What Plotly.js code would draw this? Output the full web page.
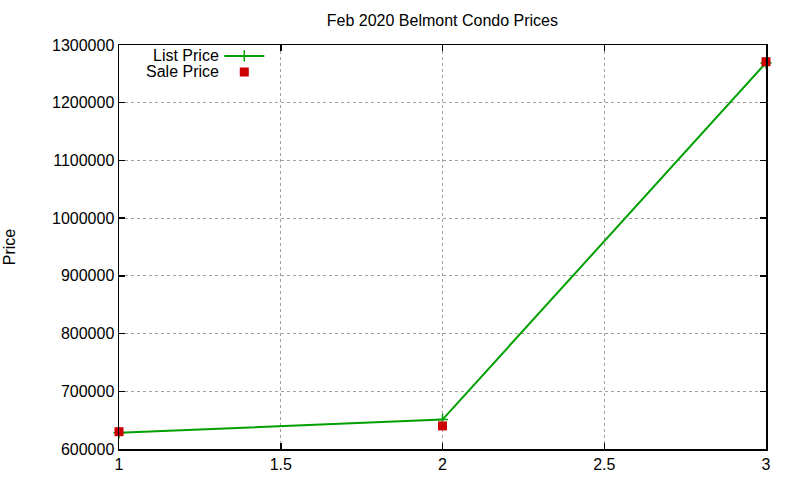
<!DOCTYPE html>
<html>
<head>
<meta charset="utf-8">
<script src="https://cdn.plot.ly/plotly-3.0.1.min.js"></script>
<style>
  html, body { margin: 0; padding: 0; background: #fff; }
  #chart { width: 800px; height: 480px; }
</style>
</head>
<body>
<div id="chart"></div>
<script>
// units (x) and prices
const units = [1, 2, 3];
const listPrice = [628000, 651000, 1269000];
const salePrice = [630000, 640000, 1271000];
const seriesNames = ['List Price', 'Sale Price'];
const xTicks = [1, 1.5, 2, 2.5, 3];
const yTicks = [600000, 700000, 800000, 900000, 1000000, 1100000, 1200000, 1300000];

const FONT = 'Liberation Sans, Arial, sans-serif';
const green = '#00a000';
const red = '#cc0000';

const listTrace = {
  x: units,
  y: listPrice,
  name: ' ',
  legend: 'legend',
  type: 'scatter',
  mode: 'lines+markers',
  line: { color: green, width: 2 },
  marker: { symbol: 'cross-thin', size: 8, line: { color: green, width: 1.5 } },
  cliponaxis: false,
};

const saleTrace = {
  x: units,
  y: salePrice,
  name: ' ',
  legend: 'legend2',
  type: 'scatter',
  mode: 'markers',
  marker: { symbol: 'square', size: 9, color: red },
  cliponaxis: false,
};

const axisCommon = {
  showline: true,
  linecolor: '#000',
  linewidth: 1.5,
  mirror: 'ticks',
  ticks: 'inside',
  ticklen: 6,
  tickcolor: '#000',
  tickwidth: 1.5,
  showgrid: true,
  gridcolor: '#a0a0a0',
  griddash: 'dot',
  gridwidth: 1,
  zeroline: false,
  tickfont: { family: FONT, size: 16, color: '#000' },
};

// one small legend per series, so the two rows sit as close as in the original
const legendBox = (y) => ({
  x: 0.155, y: y,
  xanchor: 'left', yanchor: 'middle',
  bgcolor: 'rgba(0,0,0,0)',
  font: { family: FONT, size: 8 },
  itemwidth: 40,
  itemsizing: 'trace',
});

const layout = {
  width: 800,
  height: 480,
  margin: { l: 119, r: 34, t: 45, b: 31 },
  paper_bgcolor: '#fff',
  plot_bgcolor: '#fff',
  font: { family: FONT, size: 16, color: '#000' },
  title: {
    text: 'Feb 2020 Belmont Condo Prices',
    font: { family: FONT, size: 16, color: '#000' },
    x: 0.553, xanchor: 'center',
    y: 0.958, yanchor: 'middle',
  },
  xaxis: Object.assign({}, axisCommon, {
    range: [1, 3],
    tickvals: xTicks,
    ticktext: xTicks.map(String),
  }),
  yaxis: Object.assign({}, axisCommon, {
    range: [600000, 1300000],
    tickvals: yTicks,
    tickformat: 'd',
    title: { text: 'Price', font: { family: FONT, size: 16, color: '#000' }, standoff: 32 },
  }),
  showlegend: true,
  legend: legendBox(0.973),
  legend2: legendBox(0.933),
  annotations: seriesNames.map((name, i) => ({
    text: name,
    xref: 'paper', yref: 'paper',
    x: 0.157, y: 0.975 - i * 0.04,
    xanchor: 'right', yanchor: 'middle',
    showarrow: false,
    font: { family: FONT, size: 16, color: '#000' },
  })),
};

Plotly.newPlot('chart', [listTrace, saleTrace], layout, { displayModeBar: false, staticPlot: true });
</script>
</body>
</html>
